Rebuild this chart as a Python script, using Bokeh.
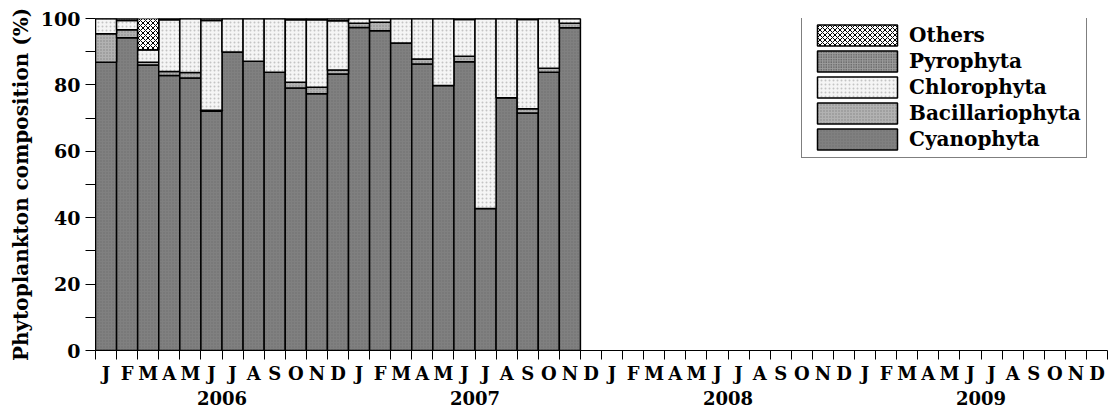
import numpy as np
from bokeh.plotting import figure
from bokeh.models import Range1d, LinearAxis, FixedTicker, Legend, LegendItem, ColumnDataSource
from bokeh.embed import file_html
from bokeh.resources import INLINE

# Calendar axis: four years of monthly slots
years = ["2006", "2007", "2008", "2009"]
month_letters = ["J", "F", "M", "A", "M", "J", "J", "A", "S", "O", "N", "D"]

# Monthly phytoplankton composition (%), Jan 2006 - Nov 2007
groups = ["Cyanophyta", "Bacillariophyta", "Chlorophyta", "Pyrophyta", "Others"]
cyanophyta = [86.8, 94.2, 86.0, 82.8, 82.1, 72.1, 89.9, 87.1, 83.8, 79.1, 77.3, 83.3,
              97.3, 96.3, 92.6, 86.3, 79.8, 87.0, 42.8, 76.1, 71.5, 83.8, 97.2]
bacillariophyta = [8.6, 2.4, 0.8, 1.2, 1.6, 0.3, 0.0, 0.0, 0.0, 1.7, 2.0, 1.2,
                   1.3, 2.6, 0.0, 1.5, 0.0, 1.6, 0.0, 0.0, 1.3, 1.2, 1.4]
chlorophyta = [4.6, 2.8, 3.8, 15.6, 16.3, 27.0, 10.1, 12.9, 16.2, 18.8, 20.3, 14.8,
               1.4, 1.1, 7.4, 12.2, 20.2, 11.1, 57.2, 23.9, 26.9, 15.0, 1.4]
pyrophyta = [0.0, 0.6, 0.0, 0.4, 0.0, 0.6, 0.0, 0.0, 0.0, 0.4, 0.4, 0.7,
             0.0, 0.0, 0.0, 0.0, 0.0, 0.3, 0.0, 0.0, 0.3, 0.0, 0.0]
others = [0.0, 0.0, 9.4, 0.0, 0.0, 0.0, 0.0, 0.0, 0.0, 0.0, 0.0, 0.0,
          0.0, 0.0, 0.0, 0.0, 0.0, 0.0, 0.0, 0.0, 0.0, 0.0, 0.0]

FONT = "DejaVu Serif"
n_slots = len(years) * len(month_letters)

source = ColumnDataSource(dict(
    x=list(range(len(cyanophyta))),
    Cyanophyta=cyanophyta,
    Bacillariophyta=bacillariophyta,
    Chlorophyta=chlorophyta,
    Pyrophyta=pyrophyta,
    Others=others,
))

p = figure(width=1113, height=408,
           x_range=Range1d(-0.5, n_slots - 0.5), y_range=Range1d(0, 100),
           output_backend="svg", toolbar_location=None, x_axis_location=None,
           min_border_left=95, min_border_right=6, min_border_top=18, min_border_bottom=58)
p.grid.visible = False
p.outline_line_color = None
p.background_fill_color = "white"
p.border_fill_color = "white"

fills = ["#808080", "#b2b2b2", "#f5f5f5", "#9c9c9c", "#ffffff"]
patterns = ["dot", "dot", "dot", "dot", "diagonal_cross"]
hatch_colors = ["#6e6e6e", "#858585", "#c4c4c4", "#3a3a3a", "#000000"]
hatch_scales = [3, 3, 4, 2.5, 5]
hatch_weights = [1, 1, 1, 1, 1]

renderers = p.vbar_stack(groups, x="x", width=1.0, source=source,
                         fill_color=fills, line_color="black", line_width=1.5,
                         hatch_pattern=patterns, hatch_color=hatch_colors,
                         hatch_scale=hatch_scales, hatch_weight=hatch_weights)

# Legend, listed from the top of the stack down
items = [LegendItem(label=g, renderers=[r]) for g, r in reversed(list(zip(groups, renderers)))]
legend = Legend(items=items, location=(706, 192), margin=0, padding=5, spacing=0,
                glyph_width=100, glyph_height=26, label_height=26, label_standoff=2,
                label_text_font=FONT, label_text_font_style="bold",
                label_text_font_size="20px", label_text_color="black",
                border_line_color="black", border_line_width=1,
                background_fill_color="white", background_fill_alpha=1.0)
p.add_layout(legend)

# Y axis
yax = p.yaxis[0]
yax.ticker = FixedTicker(ticks=[0, 20, 40, 60, 80, 100], minor_ticks=[10, 30, 50, 70, 90])
yax.axis_label = "Phytoplankton composition (%)"
yax.axis_label_text_font = FONT
yax.axis_label_text_font_style = "bold"
yax.axis_label_text_font_size = "20px"
yax.axis_label_text_color = "black"
yax.axis_label_standoff = 5
yax.major_label_text_font = FONT
yax.major_label_text_font_style = "bold"
yax.major_label_text_font_size = "19px"
yax.major_label_text_color = "black"
yax.major_label_standoff = 5
yax.major_tick_out = 10
yax.major_tick_in = 0
yax.minor_tick_out = 10
yax.minor_tick_in = 0
yax.axis_line_color = "black"
yax.major_tick_line_color = "black"
yax.minor_tick_line_color = "black"

# Month axis: ticks on slot boundaries, letters centred in each slot
month_axis = LinearAxis(
    ticker=FixedTicker(ticks=list(range(n_slots)),
                       minor_ticks=[i - 0.5 for i in range(n_slots + 1)]),
    major_label_overrides={i: month_letters[i % 12] for i in range(n_slots)},
    major_tick_out=0, major_tick_in=0, minor_tick_out=9, minor_tick_in=0,
    major_label_standoff=3,
    major_label_text_font=FONT, major_label_text_font_style="bold",
    major_label_text_font_size="18px", major_label_text_color="black",
    axis_line_color="black", minor_tick_line_color="black",
)
p.add_layout(month_axis, "below")

# Year axis beneath the months
p.extra_x_ranges = {"years": Range1d(-0.5, len(years) - 0.5)}
year_axis = LinearAxis(
    x_range_name="years",
    ticker=FixedTicker(ticks=list(range(len(years)))),
    major_label_overrides={i: y for i, y in enumerate(years)},
    major_tick_out=0, major_tick_in=0, major_label_standoff=4,
    major_label_text_font=FONT, major_label_text_font_style="bold",
    major_label_text_font_size="18px", major_label_text_color="black",
    axis_line_color=None, major_tick_line_color=None, minor_tick_line_color=None,
)
p.add_layout(year_axis, "below")

open("out.html", "w").write(file_html(p, INLINE))
